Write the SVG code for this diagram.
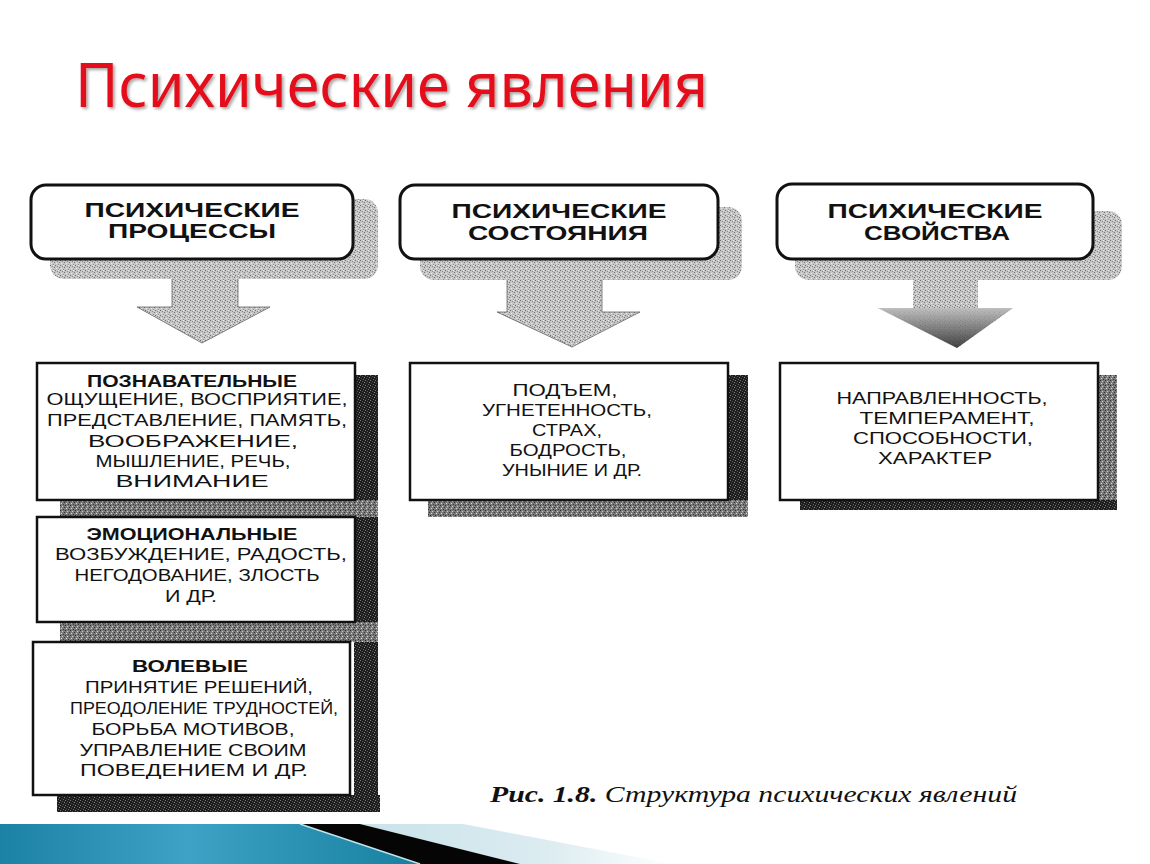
<svg xmlns="http://www.w3.org/2000/svg" width="1150" height="864" viewBox="0 0 1150 864">
<defs>
<style>
.hd{font-family:"Liberation Sans",Arial,sans-serif;font-weight:bold;font-size:21px;fill:#111;text-anchor:middle}
.tx{font-family:"Liberation Sans",Arial,sans-serif;font-size:16px;fill:#111;text-anchor:middle}
.tb{font-family:"Liberation Sans",Arial,sans-serif;font-size:16px;font-weight:bold;fill:#111;text-anchor:middle}
.rbox{fill:#fff;stroke:#111;stroke-width:3}
.sbox{fill:#fff;stroke:#111;stroke-width:2.5}
.lsh{fill:url(#dots)}
.dsh{fill:url(#dark)}
.msh{fill:url(#mid)}
</style>
<pattern id="dots" width="5" height="5" patternUnits="userSpaceOnUse">
<rect width="5" height="5" fill="#c6c6c6"/>
<rect x="0" y="0" width="1" height="1" fill="#707070"/>
<rect x="2" y="1" width="1" height="1" fill="#8a8a8a"/>
<rect x="4" y="2" width="1" height="1" fill="#777"/>
<rect x="1" y="3" width="1" height="1" fill="#e8e8e8"/>
<rect x="3" y="4" width="1" height="1" fill="#909090"/>
<rect x="3" y="0" width="1" height="1" fill="#ececec"/>
</pattern>
<pattern id="mid" width="5" height="5" patternUnits="userSpaceOnUse">
<rect width="5" height="5" fill="#7a7a7a"/>
<rect x="0" y="0" width="1" height="1" fill="#2a2a2a"/>
<rect x="2" y="1" width="1" height="1" fill="#cfcfcf"/>
<rect x="4" y="2" width="1" height="1" fill="#333"/>
<rect x="1" y="3" width="1" height="1" fill="#d8d8d8"/>
<rect x="3" y="4" width="1" height="1" fill="#3a3a3a"/>
</pattern>
<pattern id="dark" width="5" height="5" patternUnits="userSpaceOnUse">
<rect width="5" height="5" fill="#1e1e1e"/>
<rect x="0" y="0" width="1" height="1" fill="#7a7a7a"/>
<rect x="2" y="1" width="1" height="1" fill="#555"/>
<rect x="4" y="2" width="1" height="1" fill="#8a8a8a"/>
<rect x="1" y="3" width="1" height="1" fill="#444"/>
<rect x="3" y="4" width="1" height="1" fill="#666"/>
</pattern>
<linearGradient id="head3" x1="0" y1="0" x2="0" y2="1">
<stop offset="0" stop-color="#bdbdbd"/>
<stop offset="1" stop-color="#2a2a2a"/>
</linearGradient>
<linearGradient id="blue" x1="0" y1="0" x2="1" y2="0">
<stop offset="0" stop-color="#1c82a5"/>
<stop offset="0.45" stop-color="#3da2c5"/>
<stop offset="1" stop-color="#17809f"/>
</linearGradient>
<linearGradient id="lblue" x1="0" y1="0" x2="1" y2="0">
<stop offset="0" stop-color="#c9e2ea"/>
<stop offset="0.6" stop-color="#dcecf1"/>
<stop offset="1" stop-color="#ffffff"/>
</linearGradient>
<filter id="tsh" x="-5%" y="-20%" width="110%" height="140%">
<feDropShadow dx="2" dy="2" stdDeviation="1.5" flood-color="#000" flood-opacity="0.35"/>
</filter>
</defs>
<rect width="1150" height="864" fill="#fff"/>

<g id="title">
<text x="75" y="107" font-family="'Noto Sans','Open Sans',sans-serif" font-size="62" fill="#e3101a" textLength="633" lengthAdjust="spacingAndGlyphs" filter="url(#tsh)">Психические явления</text>
</g>

<g id="connectors">
<path d="M172,272 H238 V307 H270 L202,343 L137,307 H172 Z" class="lsh" stroke="#666" stroke-width="0.8"/>
<path d="M507,272 H602 V312 H640 L572,347 L497,312 H507 Z" class="lsh" stroke="#666" stroke-width="0.8"/>
<path d="M913,272 H978 V308 H1013 L957,348 L878,308 H913 Z" class="lsh"/>
<path d="M878,308 H1013 L957,348 Z" fill="url(#head3)" opacity="0.85"/>
</g>

<g id="node-processes">
<rect x="50" y="199" width="328" height="80" rx="14" class="lsh"/>
<rect x="31" y="185" width="322" height="74" rx="15" class="rbox"/>
<text class="hd" x="192" y="217" textLength="215" lengthAdjust="spacingAndGlyphs">ПСИХИЧЕСКИЕ</text>
<text class="hd" x="192" y="238" textLength="168" lengthAdjust="spacingAndGlyphs">ПРОЦЕССЫ</text>
</g>

<g id="node-states">
<rect x="420" y="207" width="322" height="73" rx="14" class="lsh"/>
<rect x="400" y="185" width="318" height="74" rx="15" class="rbox"/>
<text class="hd" x="559" y="218" textLength="215" lengthAdjust="spacingAndGlyphs">ПСИХИЧЕСКИЕ</text>
<text class="hd" x="558" y="240" textLength="180" lengthAdjust="spacingAndGlyphs">СОСТОЯНИЯ</text>
</g>

<g id="node-properties">
<rect x="795" y="211" width="327" height="69" rx="14" class="lsh"/>
<rect x="777" y="184" width="316" height="75" rx="15" class="rbox"/>
<text class="hd" x="935" y="218" textLength="215" lengthAdjust="spacingAndGlyphs">ПСИХИЧЕСКИЕ</text>
<text class="hd" x="937" y="240" textLength="146" lengthAdjust="spacingAndGlyphs">СВОЙСТВА</text>
</g>

<g id="node-process-list">
<rect x="354" y="375" width="24" height="437" class="dsh"/>
<rect x="60" y="500" width="318" height="17" class="msh"/>
<rect x="60" y="622" width="318" height="20" class="msh"/>
<rect x="57" y="795" width="323" height="17" class="dsh"/>
<g id="node-cognitive">
<rect x="37" y="363" width="318" height="137" class="sbox"/>
<text class="tb" x="192" y="387" textLength="210" lengthAdjust="spacingAndGlyphs">ПОЗНАВАТЕЛЬНЫЕ</text>
<text class="tx" x="197" y="405" textLength="301" lengthAdjust="spacingAndGlyphs">ОЩУЩЕНИЕ, ВОСПРИЯТИЕ,</text>
<text class="tx" x="197" y="426" textLength="300" lengthAdjust="spacingAndGlyphs">ПРЕДСТАВЛЕНИЕ, ПАМЯТЬ,</text>
<text class="tx" x="193" y="447" textLength="210" lengthAdjust="spacingAndGlyphs">ВООБРАЖЕНИЕ,</text>
<text class="tx" x="193" y="467" textLength="195" lengthAdjust="spacingAndGlyphs">МЫШЛЕНИЕ, РЕЧЬ,</text>
<text class="tx" x="192" y="487" textLength="153" lengthAdjust="spacingAndGlyphs">ВНИМАНИЕ</text>
</g>
<g id="node-emotional">
<rect x="37" y="517" width="318" height="105" class="sbox"/>
<text class="tb" x="192" y="540" textLength="211" lengthAdjust="spacingAndGlyphs">ЭМОЦИОНАЛЬНЫЕ</text>
<text class="tx" x="201" y="560" textLength="292" lengthAdjust="spacingAndGlyphs">ВОЗБУЖДЕНИЕ, РАДОСТЬ,</text>
<text class="tx" x="197" y="581" textLength="245" lengthAdjust="spacingAndGlyphs">НЕГОДОВАНИЕ, ЗЛОСТЬ</text>
<text class="tx" x="191" y="602" textLength="52" lengthAdjust="spacingAndGlyphs">И ДР.</text>
</g>
<g id="node-volitional">
<rect x="33" y="642" width="317" height="153" class="sbox"/>
<text class="tb" x="190" y="672" textLength="116" lengthAdjust="spacingAndGlyphs">ВОЛЕВЫЕ</text>
<text class="tx" x="199" y="693" textLength="228" lengthAdjust="spacingAndGlyphs">ПРИНЯТИЕ РЕШЕНИЙ,</text>
<text class="tx" x="204" y="714" textLength="268" lengthAdjust="spacingAndGlyphs">ПРЕОДОЛЕНИЕ ТРУДНОСТЕЙ,</text>
<text class="tx" x="193" y="735" textLength="203" lengthAdjust="spacingAndGlyphs">БОРЬБА МОТИВОВ,</text>
<text class="tx" x="193" y="756" textLength="227" lengthAdjust="spacingAndGlyphs">УПРАВЛЕНИЕ СВОИМ</text>
<text class="tx" x="194" y="776" textLength="228" lengthAdjust="spacingAndGlyphs">ПОВЕДЕНИЕМ И ДР.</text>
</g>
</g>

<g id="node-states-list">
<rect x="727" y="375" width="21" height="142" class="dsh"/>
<rect x="428" y="500" width="320" height="17" class="msh"/>
<rect x="410" y="363" width="318" height="137" class="sbox"/>
<text class="tx" x="565" y="396" textLength="105" lengthAdjust="spacingAndGlyphs">ПОДЪЕМ,</text>
<text class="tx" x="567" y="416" textLength="170" lengthAdjust="spacingAndGlyphs">УГНЕТЕННОСТЬ,</text>
<text class="tx" x="567" y="436" textLength="70" lengthAdjust="spacingAndGlyphs">СТРАХ,</text>
<text class="tx" x="568" y="456" textLength="117" lengthAdjust="spacingAndGlyphs">БОДРОСТЬ,</text>
<text class="tx" x="572" y="476" textLength="140" lengthAdjust="spacingAndGlyphs">УНЫНИЕ И ДР.</text>
</g>

<g id="node-properties-list">
<rect x="1097" y="375" width="20" height="135" class="msh"/>
<rect x="800" y="500" width="317" height="10" class="dsh"/>
<rect x="780" y="363" width="318" height="137" class="sbox"/>
<text class="tx" x="942" y="404" textLength="211" lengthAdjust="spacingAndGlyphs">НАПРАВЛЕННОСТЬ,</text>
<text class="tx" x="947" y="424" textLength="175" lengthAdjust="spacingAndGlyphs">ТЕМПЕРАМЕНТ,</text>
<text class="tx" x="943" y="444" textLength="180" lengthAdjust="spacingAndGlyphs">СПОСОБНОСТИ,</text>
<text class="tx" x="935" y="464" textLength="114" lengthAdjust="spacingAndGlyphs">ХАРАКТЕР</text>
</g>

<g id="caption">
<text x="490" y="802" font-family="'Liberation Serif','Times New Roman',serif" font-style="italic" font-size="24" fill="#111" textLength="527" lengthAdjust="spacingAndGlyphs"><tspan font-weight="bold">Рис. 1.8.</tspan> Структура психических явлений</text>
</g>

<g id="footer-band">
<polygon points="360,824 463,824 673,864 520,864" fill="url(#lblue)"/>
<polygon points="0,824 300,824 420,864 0,864" fill="url(#blue)"/>
<polygon points="300,824 360,824 520,864 420,864" fill="#050505"/>
<line x1="300" y1="824" x2="420" y2="864" stroke="#bfe3ef" stroke-width="1.5"/>
</g>
</svg>
